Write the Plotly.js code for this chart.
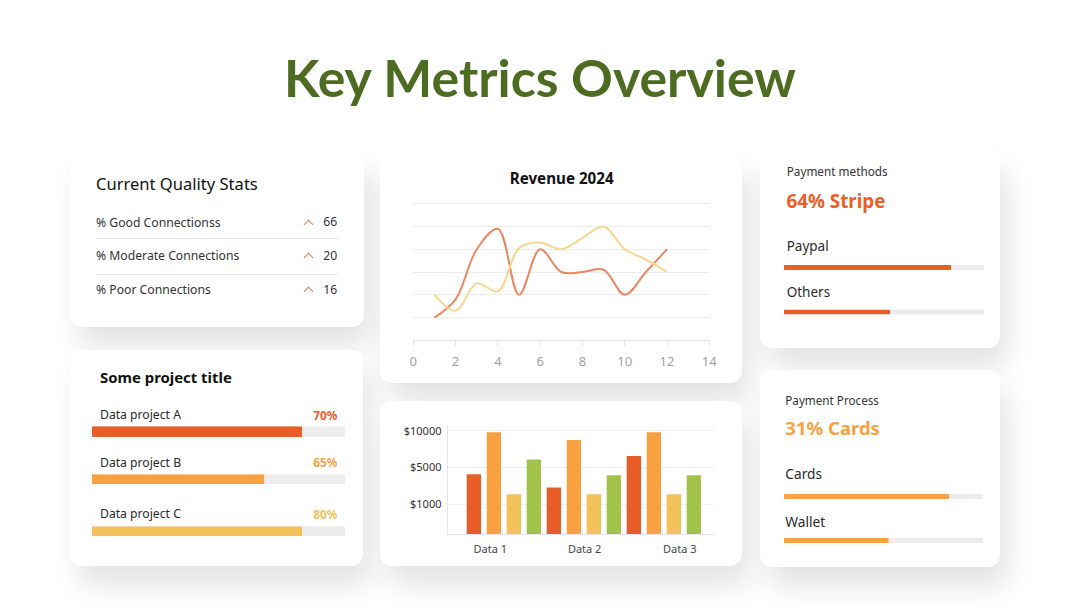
<!DOCTYPE html>
<html><head><meta charset="utf-8">
<script src="https://cdn.plot.ly/plotly-3.0.1.min.js"></script>
<style>
html,body{margin:0;padding:0;background:#fff;width:1080px;height:608px;overflow:hidden;font-family:'Noto Sans',sans-serif;}
.card{position:absolute;background:#fff;border-radius:12px;box-shadow:8px 20px 28px rgba(0,0,0,0.11);}
#plot{position:absolute;left:0;top:0;width:1080px;height:608px;}
.t{position:absolute;white-space:nowrap;line-height:1;}
.sep{position:absolute;height:1px;background:#e8e8e8;}
.chev{position:absolute;width:6px;height:6px;border-left:1.6px solid #e37b52;border-top:1.6px solid #e37b52;transform:rotate(45deg);}
</style></head><body>
<div id="cards"></div>
<div id="plot"></div>
<div id="texts"></div>
<script>
// ---------------- DATA ----------------
const pageTitle = 'Key Metrics Overview';
const revenueTitle = 'Revenue 2024';
const months = [1,2,3,4,5,6,7,8,9,10,11,12];
const revenueA = [10,18,40,49,20,40,30,30,31,20,30,40];
const revenueB = [20,13,25,21.5,40.5,43,40,45,50,40,35.5,30];

const barCategories = ['Data 1','Data 2','Data 3'];
const barTickLabels = ['$1000','$5000','$10000'];
const barSeries1 = [1.82,1.46,2.31];
const barSeries2 = [2.96,2.75,2.96];
const barSeries3 = [1.27,1.27,1.27];
const barSeries4 = [2.22,1.79,1.79];

const qualityTitle = 'Current Quality Stats';
const qualityLabels = ['% Good Connectionss','% Moderate Connections','% Poor Connections'];
const qualityValues = [66,20,16];

const projectTitle = 'Some project title';
const projectNames = ['Data project A','Data project B','Data project C'];
const projectFill = [83,68,83];
const projectLabels = ['70%','65%','80%'];

const methodsTitle = 'Payment methods';
const methodsHeadline = '64% Stripe';
const methodsNames = ['Paypal','Others'];
const methodsFill = [83.5,53];

const processTitle = 'Payment Process';
const processHeadline = '31% Cards';
const processNames = ['Cards','Wallet'];
const processFill = [83,52.5];

// ---------------- STYLE ----------------
const C_RED='#e95e28', C_ORA='#f7a141', C_YEL='#f3c15a', C_GRN='#a3c24a', C_TRACK='#ececec';
const FONT="'Noto Sans', sans-serif";
const W=1080,H=608;
const dx=(a,b)=>[a/W,b/W];
const dy=(top,bottom)=>[1-bottom/H,1-top/H];

// cards
const cards=[[70,150,294,177],[70,350,293,216],[380,153,362,230],[380,401,362,165],[760,148,240,200],[760,370,240,197]];
const cardsDiv=document.getElementById('cards');
cards.forEach(c=>{const d=document.createElement('div');d.className='card';
  d.style.left=c[0]+'px';d.style.top=c[1]+'px';d.style.width=c[2]+'px';d.style.height=c[3]+'px';cardsDiv.appendChild(d);});

// ---------------- PLOT ----------------
const traces=[];
traces.push({x:months,y:revenueA,type:'scatter',mode:'lines',xaxis:'x',yaxis:'y',
  line:{shape:'spline',smoothing:1,color:'#ec8762',width:2},hoverinfo:'skip'});
traces.push({x:months,y:revenueB,type:'scatter',mode:'lines',xaxis:'x',yaxis:'y',
  line:{shape:'spline',smoothing:1,color:'#f7d68f',width:2},hoverinfo:'skip'});

const barSeries=[barSeries1,barSeries2,barSeries3,barSeries4];
const barColors=[C_RED,C_ORA,C_YEL,C_GRN];
barSeries.forEach((s,i)=>{
  traces.push({x:[0,1,2],y:s,type:'bar',xaxis:'x2',yaxis:'y2',width:0.179,offset:-0.4644+i*0.25,
    marker:{color:barColors[i]},hoverinfo:'skip'});
});

const layout={width:W,height:H,margin:{l:0,r:0,t:0,b:0},paper_bgcolor:'rgba(0,0,0,0)',plot_bgcolor:'rgba(0,0,0,0)',
  showlegend:false,barmode:'overlay',font:{family:FONT},
  xaxis:{domain:dx(413.3,709.3),range:[0,14],tick0:0,dtick:2,showgrid:false,showline:true,linecolor:'#e3e3e3',
    ticks:'outside',ticklen:5,tickcolor:'#e3e3e3',tickfont:{size:13,color:'#9aa3ad',family:FONT},zeroline:false,anchor:'y',
    ticklabelstandoff:4,fixedrange:true},
  yaxis:{domain:dy(196,340.3),range:[0,63.4],dtick:10,showticklabels:false,gridcolor:'#ececec',zeroline:false,anchor:'x',fixedrange:true},
  xaxis2:{domain:dx(447.7,714),range:[-0.702,2.627],tickvals:[-0.17,1.01,2.2],ticktext:barCategories,showgrid:false,
    showline:true,linecolor:'#e6e6e6',ticks:'',tickfont:{size:11,color:'#444',family:FONT},anchor:'y2',zeroline:false,
    ticklabelstandoff:4,fixedrange:true},
  yaxis2:{domain:dy(425,534.3),range:[0.185,3.155],tickvals:[1,2,3],ticktext:barTickLabels,gridcolor:'#f0f0f0',
    showline:true,linecolor:'#e6e6e6',ticks:'',tickfont:{size:11,color:'#333',family:FONT},anchor:'x2',zeroline:false,
    ticklabelstandoff:3,fixedrange:true}
};

// progress bars: each on its own axis pair
let ax=3;
function progress(value,color,x0,x1,y0,y1){
  const xa='x'+ax, ya='y'+ax;
  traces.push({x:[100],y:[0],type:'bar',orientation:'h',width:1,xaxis:xa,yaxis:ya,marker:{color:C_TRACK},hoverinfo:'skip'});
  traces.push({x:[value],y:[0],type:'bar',orientation:'h',width:1,xaxis:xa,yaxis:ya,marker:{color:color},hoverinfo:'skip'});
  layout['xaxis'+ax]={domain:dx(x0,x1),range:[0,100],visible:false,anchor:ya,fixedrange:true};
  layout['yaxis'+ax]={domain:dy(y0,y1),range:[-0.5,0.5],visible:false,anchor:xa,fixedrange:true};
  ax++;
}
const projColors=[C_RED,C_ORA,C_YEL];
const projY=[[426.3,437],[474.3,484.3],[526.3,536.3]];
projectFill.forEach((v,i)=>progress(v,projColors[i],92,345,projY[i][0],projY[i][1]));
const methY=[[265,270],[309.5,314.5]];
methodsFill.forEach((v,i)=>progress(v,C_RED,784,984,methY[i][0],methY[i][1]));
const procY=[[494,499],[538,543]];
processFill.forEach((v,i)=>progress(v,C_ORA,784,983,procY[i][0],procY[i][1]));

Plotly.newPlot('plot',traces,layout,{staticPlot:true,displayModeBar:false});

// ---------------- TEXT ----------------
const textsDiv=document.getElementById('texts');
const specs=[];
function T(id,text,x,y,opt){specs.push(Object.assign({id,text,x,y,align:'left',size:13,weight:400,color:'#2a2a2a',font:FONT},opt||{}));}
T('title',pageTitle,540,78,{align:'center',w:512,size:48,weight:700,color:'#4e6b22',font:"Lato, sans-serif"});
T('qt',qualityTitle,96,184,{w:162,size:17,color:'#111'});
qualityLabels.forEach((l,i)=>T('ql'+i,l,96,[223,256,290.5][i],i===0?{w:124.7,color:'#333'}:{ref:'ql0',color:'#333'}));
qualityValues.forEach((v,i)=>T('qv'+i,String(v),337.3,[222.5,256,290][i],{align:'right',ref:'ql0',color:'#333'}));
T('pt',projectTitle,100,377.7,{w:132,size:16,weight:700,color:'#111'});
projectNames.forEach((n,i)=>T('pn'+i,n,100,[415,462.7,514.3][i],i===0?{w:81}:{ref:'pn0'}));
projectLabels.forEach((n,i)=>T('pl'+i,n,337.3,[415.5,463,514.5][i],Object.assign({align:'right',weight:700,color:projColors[i]},i===0?{w:24}:{ref:'pl0'})));
T('rt',revenueTitle,561.7,178.3,{align:'center',w:104,size:15,weight:700,color:'#111'});
T('mt',methodsTitle,786.7,171.7,{w:101,color:'#333'});
T('mh',methodsHeadline,786.5,201.7,{w:99,size:20,weight:700,color:C_RED});
methodsNames.forEach((n,i)=>T('mn'+i,n,786.7,[246.7,292.7][i],i===0?{w:42,size:15}:{ref:'mn0'}));
T('st',processTitle,785.3,400.7,{w:93.7,color:'#333'});
T('sh',processHeadline,785.3,428.3,{w:94.7,size:20,weight:700,color:C_ORA});
processNames.forEach((n,i)=>T('sn'+i,n,785.3,[474,521.7][i],i===0?{w:36.7,size:15}:{ref:'sn0'}));

const els={};
specs.forEach(s=>{
  const e=document.createElement('div');e.className='t';e.textContent=s.text;
  e.style.fontFamily=s.font;e.style.fontWeight=s.weight;e.style.color=s.color;e.style.fontSize=s.size+'px';
  textsDiv.appendChild(e);els[s.id]={e,s};
});
function layoutTexts(){
  specs.forEach(s=>{const o=els[s.id];
    if(s.w){o.e.style.fontSize=s.size+'px';const m=o.e.getBoundingClientRect().width;o.fs=s.size*s.w/m;}
  });
  specs.forEach(s=>{const o=els[s.id];if(s.ref){o.fs=els[s.ref].fs;} if(!o.fs)o.fs=s.size;
    o.e.style.fontSize=o.fs+'px';
    const r=o.e.getBoundingClientRect();
    let left=s.x; if(s.align==='center')left=s.x-r.width/2; else if(s.align==='right')left=s.x-r.width;
    o.e.style.left=left+'px';o.e.style.top=(s.y-r.height/2)+'px';
  });
}
layoutTexts();
if(document.fonts&&document.fonts.ready)document.fonts.ready.then(layoutTexts);

// separators and chevrons
[237.7,274].forEach(y=>{const d=document.createElement('div');d.className='sep';d.style.left='96px';d.style.width='242px';d.style.top=y+'px';textsDiv.appendChild(d);});
qualityValues.forEach((v,i)=>{const d=document.createElement('div');d.className='chev';d.style.left=(307.7-3)+'px';d.style.top=([222.5,256,290][i]-2)+'px';textsDiv.appendChild(d);});
</script>
</body></html>
